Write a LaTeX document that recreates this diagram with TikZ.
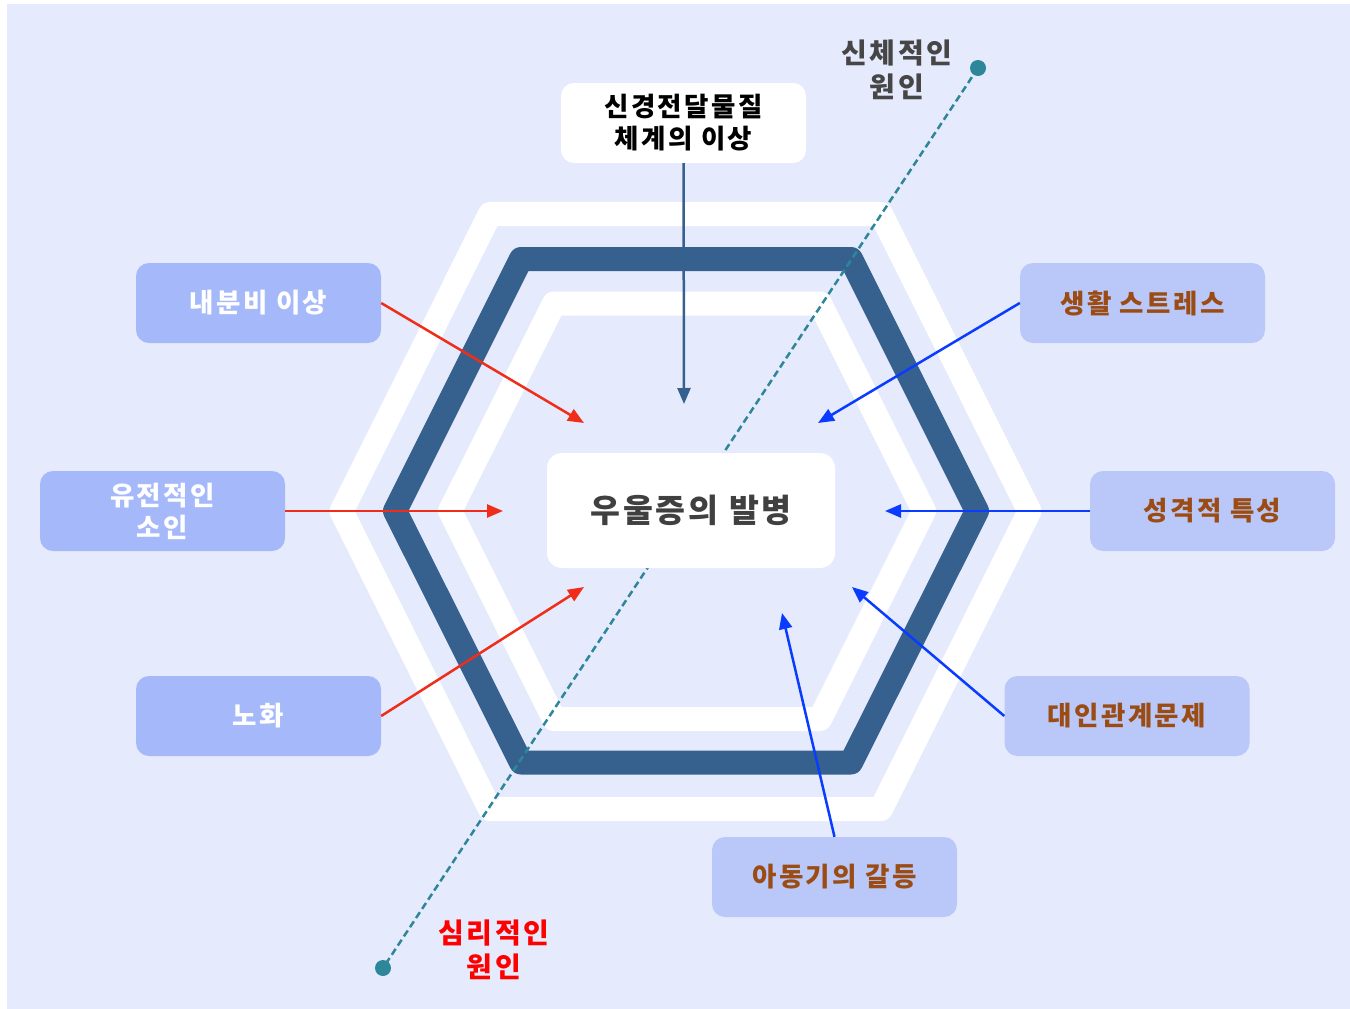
\documentclass[tikz,border=0pt]{standalone}
\usepackage{fontspec}
\setmainfont{Noto Sans CJK KR}[LetterSpace=9]
\usetikzlibrary{arrows.meta}
\definecolor{bgc}{RGB}{229,234,252}
\definecolor{hexdark}{RGB}{54,97,143}
\definecolor{boxleft}{RGB}{165,185,250}
\definecolor{boxright}{RGB}{185,200,249}
\definecolor{browntxt}{RGB}{155,75,20}
\definecolor{arrred}{RGB}{240,45,25}
\definecolor{arrblue}{RGB}{10,60,255}
\definecolor{teal}{RGB}{46,134,155}
\definecolor{txtgray}{RGB}{64,64,64}
\definecolor{labgray}{RGB}{70,70,70}
\tikzset{
  band/.style={draw=#1, line width=24pt, line join=round},
  leftbox/.style={fill=boxleft, rounded corners=13pt, minimum width=245pt, minimum height=80pt, inner sep=0pt, align=center, text=white, font=\fontsize{26.5}{32}\selectfont\bfseries},
  rightbox/.style={fill=boxright, rounded corners=13pt, minimum width=245pt, minimum height=80pt, inner sep=0pt, align=center, text=browntxt, font=\fontsize{26.5}{32}\selectfont\bfseries},
  whitebox/.style={fill=white, rounded corners=15pt, inner sep=0pt, align=center},
  redarr/.style={draw=arrred, line width=2.5pt, -{Triangle[length=16pt,width=13pt]}},
  bluearr/.style={draw=arrblue, line width=2.5pt, -{Triangle[length=16pt,width=13pt]}},
  darkarr/.style={draw=hexdark, line width=2.5pt, -{Triangle[length=16pt,width=13pt]}},
  dashline/.style={draw=teal, line width=2.5pt, dash pattern=on 7pt off 4pt},
  enddot/.style={circle, fill=teal, minimum size=16pt, inner sep=0pt},
  causelabel/.style={align=center, font=\fontsize{28}{34}\selectfont\bfseries}
}
\begin{document}
\begin{tikzpicture}[x=1pt,y=-1pt]
\useasboundingbox (0,0) rectangle (1350,1009);
\fill[white] (0,0) rectangle (1350,1009);
\fill[bgc] (7,4) rectangle (1350,1009);

% hexagon bands
\draw[band=white] (341.5,511.3) -- (490,214) -- (881,214) -- (1029.5,511.3) -- (881,809) -- (490,809) -- cycle;
\draw[band=hexdark] (395,511) -- (521,259) -- (851,259) -- (977,511) -- (851,762.5) -- (521,762.5) -- cycle;
\draw[band=white] (450,511) -- (554,303.5) -- (820,303.5) -- (924,511) -- (820,719) -- (554,719) -- cycle;

% dashed axis
\node[enddot] (dA) at (978,68) {};
\node[enddot] (dB) at (383,968) {};
\draw[dashline] (dA.center) -- (dB.center);

% boxes
\node[whitebox, minimum width=288pt, minimum height=115pt, text=txtgray, font=\fontsize{32.5}{38}\selectfont\bfseries] (center) at (691,510.5) {우울증의 발병};
\node[whitebox, rounded corners=13pt, minimum width=245pt, minimum height=80pt, text=black, font=\fontsize{26.5}{32}\selectfont\bfseries] (top) at (683.5,123) {신경전달물질\\체계의 이상};

\node[leftbox] (endo) at (258.5,303) {내분비 이상};
\node[leftbox] (gene) at (162.5,511) {유전적인\\소인};
\node[leftbox] (aging) at (258.5,716) {노화};
\node[rightbox] (stress) at (1142.5,303) {생활 스트레스};
\node[rightbox] (person) at (1212.5,511) {성격적 특성};
\node[rightbox] (inter) at (1127,716) {대인관계문제};
\node[rightbox] (child) at (834.5,877) {아동기의 갈등};

% arrow targets
\coordinate (tTop) at (684,404);
\coordinate (tEndo) at (584,423);
\coordinate (tGene) at (503,511);
\coordinate (tAging) at (584,587);
\coordinate (tStress) at (818,423);
\coordinate (tPerson) at (885,511);
\coordinate (tInter) at (852,587);
\coordinate (tChild) at (782,613);

\draw[darkarr] (top.south) -- (tTop);
\draw[redarr] (endo.east) -- (tEndo);
\draw[redarr] (gene.east) -- (tGene);
\draw[redarr] (aging.east) -- (tAging);
\draw[bluearr] (stress.west) -- (tStress);
\draw[bluearr] (person.west) -- (tPerson);
\draw[bluearr] (inter.west) -- (tInter);
\draw[bluearr] (child.north) -- (tChild);

% cause labels
\node[causelabel, text=labgray] (body) at (897,70) {신체적인\\원인};
\node[causelabel, text=red] (mind) at (494,950) {심리적인\\원인};
\end{tikzpicture}
\end{document}
